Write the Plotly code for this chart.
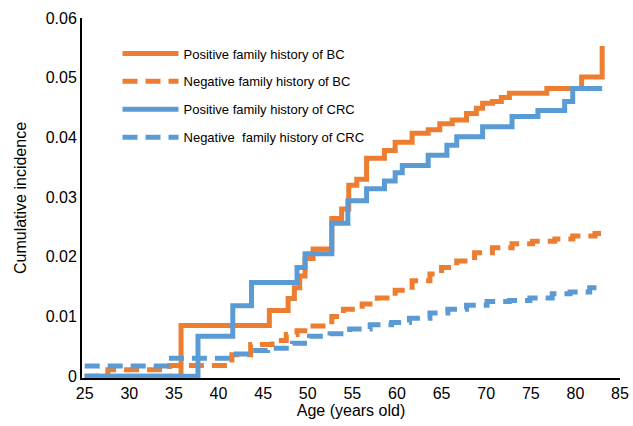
import plotly.graph_objects as go

# Positive family history of BC (orange solid)
pos_bc_age = [25, 35.8, 45.7, 47.8, 48.5, 49.1, 49.7, 50.6, 52.7, 53.8, 54.6, 55.5, 56.6, 58.6,
              59.8, 61.7, 63.5, 64.8, 66.2, 67.8, 68.9, 69.6, 70.7, 71.7, 72.6, 76.8, 80.7, 83.0]
pos_bc_val = [0, 0.0085, 0.011, 0.013, 0.0148, 0.0168, 0.0197, 0.0213, 0.0264, 0.028, 0.032, 0.033,
              0.0365, 0.0378, 0.0392, 0.0407, 0.0413, 0.0423, 0.0429, 0.044, 0.0449, 0.0457, 0.046,
              0.0467, 0.0474, 0.0482, 0.0501, 0.0553]

# Negative family history of BC (orange dashed)
neg_bc_age = [25, 27.6, 34.5, 41.5, 43.6, 46.0, 47.6, 48.8, 50.6, 52.7, 54.0, 56.1, 57.8, 59.8,
              61.7, 63.7, 65.0, 66.7, 68.7, 70.7, 72.9, 75.2, 77.7, 79.7, 82.2, 83.0]
neg_bc_val = [0, 0.0011, 0.0018, 0.0036, 0.0053, 0.006, 0.007, 0.0076, 0.0084, 0.01, 0.0112, 0.0121,
              0.0131, 0.0144, 0.016, 0.0171, 0.0182, 0.0193, 0.0207, 0.0215, 0.0222, 0.0226, 0.023,
              0.0235, 0.0239, 0.0239]

# Positive family history of CRC (blue solid)
pos_crc_age = [25, 37.7, 41.6, 43.7, 48.8, 49.7, 52.7, 54.5, 56.6, 58.6, 59.8, 60.6, 63.5, 65.6,
               66.7, 69.6, 72.9, 75.8, 78.8, 79.7, 83.0]
pos_crc_val = [0, 0.0067, 0.0118, 0.0157, 0.0182, 0.0205, 0.0256, 0.0294, 0.0314, 0.0327, 0.0341,
               0.0353, 0.037, 0.0387, 0.0401, 0.0418, 0.0435, 0.0445, 0.046, 0.0482, 0.0482]

# Negative family history of CRC (blue dashed)
neg_crc_age = [25, 34.2, 41.6, 43.6, 45.5, 48.3, 50.2, 52.5, 54.7, 57.0, 59.4, 61.4, 63.7, 65.7,
               67.8, 70.1, 72.6, 74.9, 77.4, 79.4, 81.6, 83.0]
neg_crc_val = [0.0017, 0.003, 0.0037, 0.0043, 0.0047, 0.0055, 0.0067, 0.0071, 0.0079, 0.0086, 0.009,
               0.0097, 0.0106, 0.0112, 0.0119, 0.0125, 0.0127, 0.0131, 0.0138, 0.0141, 0.0148, 0.0148]

x_ticks = [25, 30, 35, 40, 45, 50, 55, 60, 65, 70, 75, 80, 85]
y_ticks = [0, 0.01, 0.02, 0.03, 0.04, 0.05, 0.06]
y_tick_labels = ["0", "0.01", "0.02", "0.03", "0.04", "0.05", "0.06"]

ORANGE = "#ED7D31"
BLUE = "#5B9BD5"

fig = go.Figure()
series = [
    ("Positive family history of BC", pos_bc_age, pos_bc_val, ORANGE, "solid"),
    ("Negative family history of BC", neg_bc_age, neg_bc_val, ORANGE, "15px,8px"),
    ("Positive family history of CRC", pos_crc_age, pos_crc_val, BLUE, "solid"),
    ("Negative  family history of CRC", neg_crc_age, neg_crc_val, BLUE, "15px,8px"),
]
for i, (name, xs, ys, col, dash) in enumerate(series):
    fig.add_trace(go.Scatter(
        x=xs, y=ys, mode="lines", name=name, legendgroup=f"g{i}",
        line=dict(color=col, width=5, dash=dash, shape="hv"),
    ))

font = "Liberation Sans, Arial, sans-serif"
fig.update_layout(
    width=633, height=426,
    margin=dict(l=82, r=13, t=18, b=48),
    paper_bgcolor="white", plot_bgcolor="white",
    font=dict(family=font, size=16, color="#000"),
    showlegend=True,
    legend=dict(
        x=0.066, y=0.943, xanchor="left", yanchor="top",
        bgcolor="rgba(0,0,0,0)", font=dict(size=13, family=font),
        tracegroupgap=8, itemwidth=56,
    ),
    xaxis=dict(
        range=[24.7, 85], tickvals=x_ticks, ticktext=[str(v) for v in x_ticks],
        showgrid=False, zeroline=False, showline=True, linecolor="#000", linewidth=2,
        ticks="", ticklen=0, automargin=False,
        title=dict(text="Age (years old)", font=dict(size=16), standoff=4),
        tickfont=dict(size=16),
    ),
    yaxis=dict(
        range=[-0.0003, 0.06], tickvals=y_ticks, ticktext=y_tick_labels,
        showgrid=False, zeroline=False, showline=True, linecolor="#000", linewidth=2,
        ticks="", ticklen=0, automargin=False,
        title=dict(text="Cumulative incidence", font=dict(size=16)),
        tickfont=dict(size=16),
    ),
)

fig.write_html(
    "out.html",
    config={"displayModeBar": False},
    post_script="document.body.style.margin='0';document.body.style.overflow='hidden';",
)
